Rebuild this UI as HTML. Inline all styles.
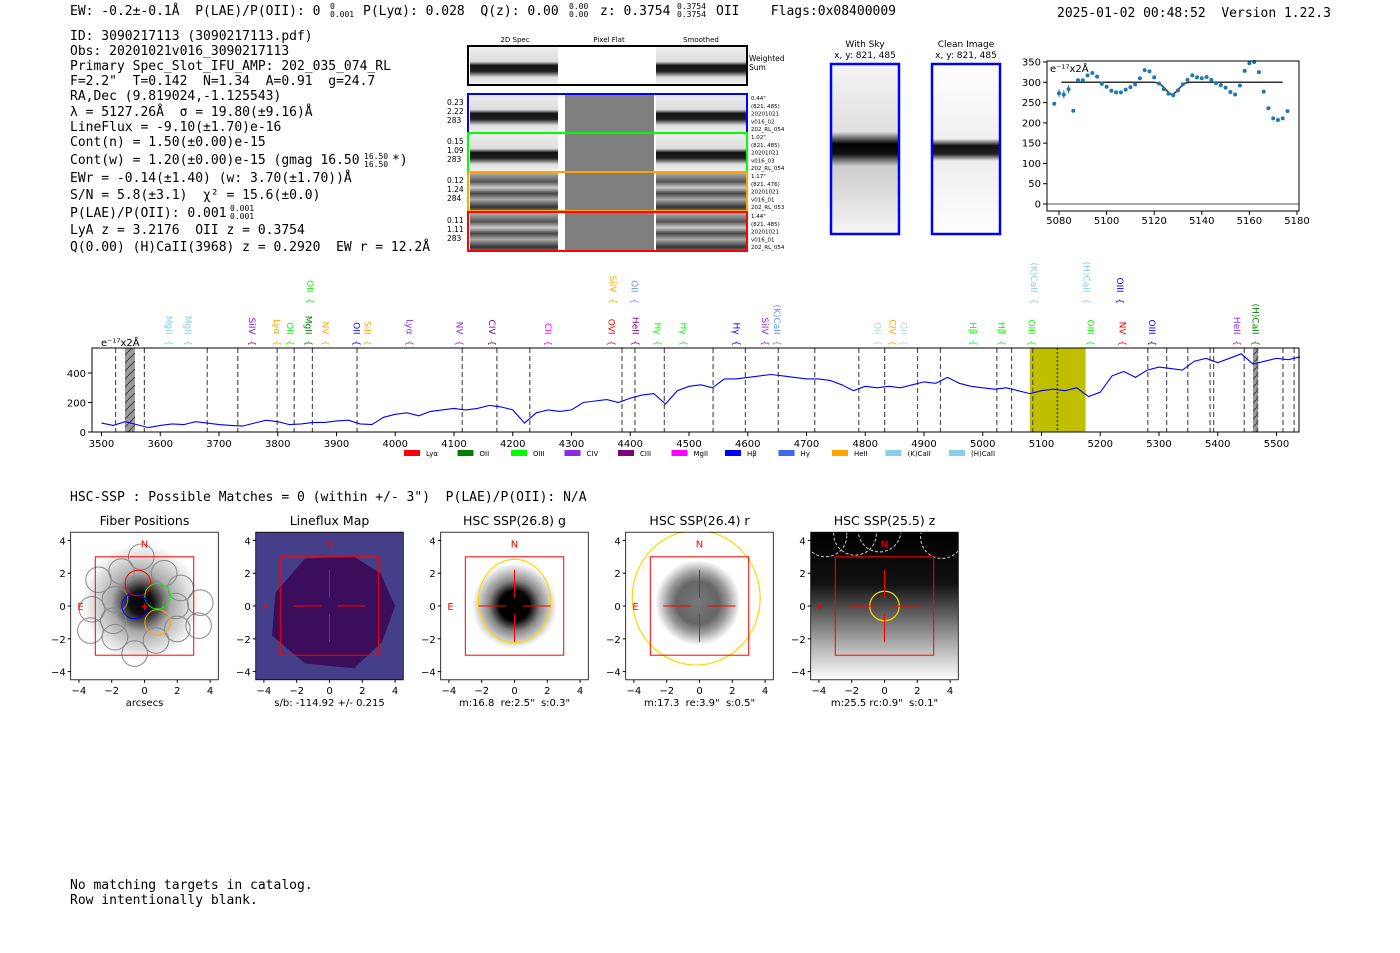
<!DOCTYPE html>
<html><head><meta charset="utf-8">
<style>
html,body{margin:0;padding:0;background:#fff;}
svg{display:block;}
svg text{white-space:pre;}
.mono{font-family:"DejaVu Sans Mono","Liberation Mono",monospace;font-size:13px;fill:#000;}
.sans{font-family:"DejaVu Sans","Liberation Sans",sans-serif;}
.tick{font-family:"DejaVu Sans","Liberation Sans",sans-serif;font-size:10px;fill:#000;}
</style></head>
<body>
<svg id="page" width="1400" height="953" viewBox="0 0 1400 953" xmlns="http://www.w3.org/2000/svg" xml:space="preserve">
<defs>
<linearGradient id="zgrad" x1="0" y1="0" x2="0" y2="1"><stop offset="0" stop-color="#000"/><stop offset="0.35" stop-color="#111"/><stop offset="0.75" stop-color="#aaa"/><stop offset="1" stop-color="#fff"/></linearGradient>
<radialGradient id="gblob"><stop offset="0" stop-color="#000"/><stop offset="0.35" stop-color="#000"/><stop offset="0.6" stop-color="#888"/><stop offset="1" stop-color="#fff"/></radialGradient>
<radialGradient id="fblob"><stop offset="0" stop-color="#000"/><stop offset="0.2" stop-color="#111"/><stop offset="0.5" stop-color="#aaa"/><stop offset="1" stop-color="#fff"/></radialGradient>
<radialGradient id="rblob"><stop offset="0" stop-color="#777"/><stop offset="0.5" stop-color="#666"/><stop offset="0.7" stop-color="#999"/><stop offset="1" stop-color="#fff"/></radialGradient>
<linearGradient id="specband" x1="0" y1="0" x2="0" y2="1"><stop offset="0" stop-color="#eee"/><stop offset="0.4" stop-color="#ddd"/><stop offset="0.5" stop-color="#111"/><stop offset="0.65" stop-color="#222"/><stop offset="0.8" stop-color="#ddd"/><stop offset="1" stop-color="#f4f4f4"/></linearGradient>
<linearGradient id="specband2" x1="0" y1="0" x2="0" y2="1"><stop offset="0" stop-color="#bbb"/><stop offset="0.25" stop-color="#555"/><stop offset="0.4" stop-color="#ccc"/><stop offset="0.55" stop-color="#444"/><stop offset="0.7" stop-color="#aaa"/><stop offset="0.9" stop-color="#333"/><stop offset="1" stop-color="#777"/></linearGradient>
<linearGradient id="skyband" x1="0" y1="0" x2="0" y2="1"><stop offset="0" stop-color="#f4f4f4"/><stop offset="0.4" stop-color="#e0e0e0"/><stop offset="0.47" stop-color="#000"/><stop offset="0.53" stop-color="#111"/><stop offset="0.6" stop-color="#ccc"/><stop offset="1" stop-color="#f6f6f6"/></linearGradient>
<linearGradient id="cleanband" x1="0" y1="0" x2="0" y2="1"><stop offset="0" stop-color="#fff"/><stop offset="0.44" stop-color="#f0f0f0"/><stop offset="0.48" stop-color="#111"/><stop offset="0.53" stop-color="#222"/><stop offset="0.57" stop-color="#eee"/><stop offset="1" stop-color="#fff"/></linearGradient>
<pattern id="hatch" width="8" height="8" patternUnits="userSpaceOnUse"><rect width="8" height="8" fill="#999"/><path d="M0,8 L8,0" stroke="#333" stroke-width="0.8"/></pattern>
</defs>

<g class="mono">
<text x="70" y="15">EW: -0.2±-0.1Å  P(LAE)/P(OII): 0</text>
<text x="330" y="9" font-size="8">0</text><text x="330" y="17" font-size="8">0.001</text>
<text x="363" y="15">P(Lyα): 0.028  Q(z): 0.00</text>
<text x="569" y="9" font-size="8">0.00</text><text x="569" y="17" font-size="8">0.00</text>
<text x="600" y="15">z: 0.3754</text>
<text x="677" y="9" font-size="8">0.3754</text><text x="677" y="17" font-size="8">0.3754</text>
<text x="716" y="15">OII    Flags:0x08400009</text>
<text x="1057" y="17">2025-01-02 00:48:52  Version 1.22.3</text>
</g>
<g class="mono">
<text x="70" y="40">ID: 3090217113 (3090217113.pdf)</text>
<text x="70" y="55">Obs: 20201021v016_3090217113</text>
<text x="70" y="70">Primary Spec_Slot_IFU_AMP: 202_035_074_RL</text>
<text x="70" y="85">F=2.2"  T=0.142  N=1.34  A=0.91  g=24.7</text>
<text x="70" y="100">RA,Dec (9.819024,-1.125543)</text>
<text x="70" y="116">λ = 5127.26Å  σ = 19.80(±9.16)Å</text>
<text x="70" y="131">LineFlux = -9.10(±1.70)e-16</text>
<text x="70" y="146">Cont(n) = 1.50(±0.00)e-15</text>
<text x="70" y="164">Cont(w) = 1.20(±0.00)e-15 (gmag 16.50</text>
<text x="364" y="159" font-size="8">16.50</text><text x="364" y="167" font-size="8">16.50</text>
<text x="392" y="164">*)</text>
<text x="70" y="182">EWr = -0.14(±1.40) (w: 3.70(±1.70))Å</text>
<text x="70" y="199">S/N = 5.8(±3.1)  χ² = 15.6(±0.0)</text>
<text x="70" y="217">P(LAE)/P(OII): 0.001</text>
<text x="230" y="211" font-size="8">0.001</text><text x="230" y="219" font-size="8">0.001</text>
<text x="70" y="234">LyA z = 3.2176  OII z = 0.3754</text>
<text x="70" y="251">Q(0.00) (H)CaII(3968) z = 0.2920  EW r = 12.2Å</text>
</g>

<g font-family="DejaVu Sans, Liberation Sans, sans-serif">
<text x="515" y="42" font-size="7" text-anchor="middle">2D Spec</text>
<text x="609" y="42" font-size="7" text-anchor="middle">Pixel Flat</text>
<text x="701" y="42" font-size="7" text-anchor="middle">Smoothed</text>
<g id="cutouts"></g>
</g>
<g font-family="DejaVu Sans, Liberation Sans, sans-serif">
<text x="865" y="47" font-size="9" text-anchor="middle">With Sky</text>
<text x="865" y="58" font-size="9" text-anchor="middle">x, y: 821, 485</text>
<rect x="831" y="64" width="68" height="170" fill="url(#skyband)" stroke="#00f" stroke-width="2.5"/>
</g>
<g font-family="DejaVu Sans, Liberation Sans, sans-serif">
<text x="966" y="47" font-size="9" text-anchor="middle">Clean Image</text>
<text x="966" y="58" font-size="9" text-anchor="middle">x, y: 821, 485</text>
<rect x="932" y="64" width="68" height="170" fill="url(#cleanband)" stroke="#00f" stroke-width="2.5"/>
</g>

<g id="fitplot"></g>
<g id="spec"></g>

<text x="70" y="501" class="mono">HSC-SSP : Possible Matches = 0 (within +/- 3")  P(LAE)/P(OII): N/A</text>
<g id="imgs"></g>
<text x="70" y="889" class="mono">No matching targets in catalog.</text>
<text x="70" y="904" class="mono">Row intentionally blank.</text>
</svg>
<script>
const specWave = [3500,3520,3540,3560,3580,3600,3620,3640,3660,3680,3700,3720,3740,3760,3780,3800,3820,3840,3860,3880,3900,3920,3940,3960,3980,4000,4020,4040,4060,4080,4100,4120,4140,4160,4180,4200,4220,4240,4260,4280,4300,4320,4340,4360,4380,4400,4420,4440,4460,4480,4500,4520,4540,4560,4580,4600,4620,4640,4660,4680,4700,4720,4740,4760,4780,4800,4820,4840,4860,4880,4900,4920,4940,4960,4980,5000,5020,5040,5060,5080,5100,5120,5140,5160,5180,5200,5220,5240,5260,5280,5300,5320,5340,5360,5380,5400,5420,5440,5460,5480,5500,5520,5540];
const specFlux = [60,45,70,50,30,45,55,50,70,60,50,45,40,60,80,70,50,55,65,65,75,80,55,50,100,120,130,110,140,150,160,150,160,180,170,150,60,130,150,140,150,200,210,220,200,230,250,260,190,280,310,320,300,360,360,370,380,390,380,370,360,360,350,320,280,310,300,310,300,320,340,330,370,330,310,300,290,300,280,260,280,290,280,300,240,270,380,410,370,420,440,430,420,480,500,470,500,530,460,480,500,490,510];
const specTicks = [3500,3600,3700,3800,3900,4000,4100,4200,4300,4400,4500,4600,4700,4800,4900,5000,5100,5200,5300,5400,5500];
const specYTicks = [0,200,400];
const lineMarks = [3524,3573,3680,3732,3799,3828,3859,3935,4114,4173,4229,4386,4408,4458,4541,4596,4652,4714,4789,4833,4889,4928,5024,5049,5085,5281,5313,5349,5387,5393,5445,5467,5511,5530];
const lineLabelsLow = [["MgII",3615,"#87ceeb"],["MgII",3647,"#87ceeb"],["SiIV",3756,"#9400d3"],["Lyα",3799,"#ffa500"],["OII",3821,"#00ff00"],["MgII",3852,"#008000"],["NV",3881,"#ffa500"],["OII",3934,"#0000ff"],["SiII",3953,"#ffa500"],["Lyα",4024,"#8a2be2"],["NV",4109,"#8a2be2"],["CIV",4165,"#800080"],["CII",4260,"#ff00ff"],["OVI",4368,"#ff0000"],["HeII",4409,"#800080"],["Hγ",4446,"#00ff00"],["Hγ",4491,"#00ff00"],["Hγ",4581,"#0000ff"],["SiIV",4629,"#8a2be2"],["(K)CaII",4650,"#6495ed"],["OII",4821,"#add8e6"],["CIV",4846,"#ffa500"],["OII",4865,"#add8e6"],["Hβ",4983,"#00ff00"],["Hβ",5032,"#00ff00"],["OIII",5083,"#00ff00"],["OIII",5183,"#00ff00"],["NV",5238,"#ff0000"],["OIII",5288,"#0000ff"],["HeII",5433,"#8a2be2"],["(H)CaII",5464,"#008000"]];
const lineLabelsHigh = [["OII",3855,"#00ff00"],["SiIV",4371,"#ffa500"],["OII",4407,"#6495ed"],["(K)CaII",5087,"#87ceeb"],["(H)CaII",5177,"#87ceeb"],["OIII",5234,"#0000ff"]];
const legendNames = ["Lyα","OII","OIII","CIV","CIII","MgII","Hβ","Hγ","HeII","(K)CaII","(H)CaII"];
const legendColors = ["#ff0000","#008000","#00ff00","#8a2be2","#800080","#ff00ff","#0000ff","#4169e1","#ffa500","#87ceeb","#87ceeb"];

const fitWave = [5078,5080,5082,5084,5086,5088,5090,5092,5094,5096,5098,5100,5102,5104,5106,5108,5110,5112,5114,5116,5118,5120,5122,5124,5126,5128,5130,5132,5134,5136,5138,5140,5142,5144,5146,5148,5150,5152,5154,5156,5158,5160,5162,5164,5166,5168,5170,5172,5174,5176];
const fitFlux = [247,273,270,283,230,305,305,317,323,314,296,289,279,275,275,282,288,295,310,330,327,312,297,283,272,268,280,295,306,317,312,310,313,306,298,293,287,276,270,292,328,347,350,325,277,236,211,207,211,229];
const fitErr = [0,10,10,10,0,0,0,0,0,0,0,0,0,0,0,0,0,0,0,0,0,0,0,0,0,0,0,0,0,0,0,0,0,0,0,0,0,0,0,0,0,0,0,0,0,0,0,0,0,0];
const modelWave = [5081,5120,5122,5124,5126,5127.5,5129,5131,5133,5135,5174];
const modelFlux = [300,300,298,288,275,269,275,288,298,300,300];
const fitXTicks = [5080,5100,5120,5140,5160,5180];
const fitYTicks = [0,50,100,150,200,250,300,350];

const NS="http://www.w3.org/2000/svg";
function mk(tag,attrs,parent,txt){const e=document.createElementNS(NS,tag);for(const k in attrs)e.setAttribute(k,attrs[k]);if(txt!==undefined)e.textContent=txt;parent.appendChild(e);return e;}

(function(){
 const g=document.getElementById('spec');
 const L=92,R=1299,T=348,B=432;
 const sx=w=>101.5+(w-3500)*0.5875;
 const sy=v=>B-v*0.1475;
 mk('rect',{x:sx(3540),y:T,width:sx(3557)-sx(3540),height:B-T,fill:'url(#hatch)'},g);
 mk('rect',{x:sx(5460),y:T,width:sx(5469)-sx(5460),height:B-T,fill:'url(#hatch)'},g);
 mk('rect',{x:sx(5080),y:T,width:sx(5175)-sx(5080),height:B-T,fill:'#bfbf00'},g);
 mk('line',{x1:sx(5127),x2:sx(5127),y1:T,y2:B,stroke:'#000','stroke-width':1,'stroke-dasharray':'2,2'},g);
 lineMarks.forEach(w=>{const l=mk('line',{x1:sx(w),x2:sx(w),y1:T,y2:B,stroke:'#555','stroke-width':1.2,'stroke-dasharray':'5,3'},g);
  
  });
 let d='';specWave.forEach((w,i)=>{d+=(i?'L':'M')+sx(w).toFixed(1)+','+sy(specFlux[i]).toFixed(1);});
 const p=mk('path',{d:d,fill:'none',stroke:'#0000ff','stroke-width':1.1},g);
 
 
 mk('rect',{x:L,y:T,width:R-L,height:B-T,fill:'none',stroke:'#000','stroke-width':1},g);
 specTicks.forEach(t=>{mk('line',{x1:sx(t),x2:sx(t),y1:B,y2:B+4,stroke:'#000'},g);
  const tx=mk('text',{x:sx(t),y:B+15,'text-anchor':'middle',class:'tick'},g,String(t));
  
  });
 specYTicks.forEach(t=>{mk('line',{x1:L-4,x2:L,y1:sy(t),y2:sy(t),stroke:'#000'},g);
  const tx=mk('text',{x:L-6,y:sy(t)+4,'text-anchor':'end',class:'tick'},g,String(t));
  
  });
 const yl=mk('text',{x:101,y:346,class:'tick'},g,'e⁻¹⁷x2Å');
 
 
 function lab(arr,yEnd){arr.forEach(a=>{const x=sx(a[1]);
  const t=mk('text',{x:x-3,y:yEnd,transform:'rotate(90 '+(x-3)+' '+yEnd+')','text-anchor':'end',class:'sans','font-size':'9',fill:a[2]},g,a[0]+'  {');
  
  });}
 lab(lineLabelsLow,346);lab(lineLabelsHigh,304);
 legendNames.forEach((n,i)=>{const x=404+i*53.5+(i>=9?(i-9)*10:0);
  const r=mk('rect',{x:x,y:450,width:16,height:6,fill:legendColors[i]},g);
  
  
  const t=mk('text',{x:x+22,y:456,class:'sans','font-size':'7'},g,n);
  
  });
})();

(function(){
 const g=document.getElementById('fitplot');
 const L=1047,R=1299,T=61,B=211;
 const sx=w=>1059+(w-5080)*2.38;
 const sy=v=>204-v*0.4057;
 mk('line',{x1:L,x2:R,y1:sy(0),y2:sy(0),stroke:'#555','stroke-width':1},g);
 let d='';modelWave.forEach((w,i)=>{d+=(i?'L':'M')+sx(w).toFixed(1)+','+sy(modelFlux[i]).toFixed(1);});
 const m=mk('path',{d:d,fill:'none',stroke:'#333','stroke-width':1.5},g);
 
 
 fitWave.forEach((w,i)=>{
  if(fitErr[i]>0){mk('line',{x1:sx(w),x2:sx(w),y1:sy(fitFlux[i]-fitErr[i]),y2:sy(fitFlux[i]+fitErr[i]),stroke:'#1f77b4','stroke-width':1},g);}
  const c=mk('circle',{cx:sx(w),cy:sy(fitFlux[i]),r:2,fill:'#1f77b4'},g);
  
  });
 mk('rect',{x:L,y:T,width:R-L,height:B-T,fill:'none',stroke:'#000','stroke-width':1},g);
 fitXTicks.forEach(t=>{mk('line',{x1:sx(t),x2:sx(t),y1:B,y2:B+4,stroke:'#000'},g);
  const tx=mk('text',{x:sx(t),y:B+13,'text-anchor':'middle',class:'tick','font-size':'9'},g,String(t));
  
  });
 fitYTicks.forEach(t=>{mk('line',{x1:L-4,x2:L,y1:sy(t),y2:sy(t),stroke:'#000'},g);
  const tx=mk('text',{x:L-6,y:sy(t)+3.5,'text-anchor':'end',class:'tick','font-size':'9'},g,String(t));
  
  });
 const u=mk('text',{x:1050,y:72,class:'tick','font-size':'9'},g,'e⁻¹⁷x2Å');
 
 
})();

(function(){
 const g=document.getElementById('cutouts');
 const rows=[{y:46,c:'#000',l:null,flat:false},
  {y:94,c:'#0000ff',l:['0.23','2.22','283'],r:['0.44"','(821, 485)','20201021','v016_02','202_RL_054'],flat:true,fill:'url(#specband)'},
  {y:133,c:'#00ff00',l:['0.15','1.09','283'],r:['1.02"','(821, 485)','20201021','v016_03','202_RL_054'],flat:true,fill:'url(#specband)'},
  {y:172,c:'#ffa500',l:['0.12','1.24','284'],r:['1.17"','(821, 476)','20201021','v016_01','202_RL_053'],flat:true,fill:'url(#specband2)'},
  {y:212,c:'#ff0000',l:['0.11','1.11','283'],r:['1.44"','(821, 485)','20201021','v016_01','202_RL_054'],flat:true,fill:'url(#specband2)'}];
 rows.forEach((r,i)=>{
  const h=39;
  const gg=mk('g',{},g);
  
  
  mk('rect',{x:470,y:r.y,width:88,height:h,fill:i==0?'url(#specband)':r.fill},gg);
  mk('rect',{x:558,y:r.y,width:98,height:h,fill:'#fff'},gg);
  if(r.flat)mk('rect',{x:565,y:r.y,width:89,height:h,fill:'#7f7f7f'},gg);
  mk('rect',{x:656,y:r.y,width:90,height:h,fill:i==0?'url(#specband)':r.fill},gg);
  mk('rect',{x:468,y:r.y,width:279,height:h,fill:'none',stroke:r.c,'stroke-width':2},gg);
  if(r.l)r.l.forEach((t,j)=>mk('text',{x:447,y:r.y+11+j*9,'font-size':'7.5'},gg,t));
  if(i==0){mk('text',{x:749,y:r.y+15,'font-size':'7.5'},gg,'Weighted');mk('text',{x:749,y:r.y+24,'font-size':'7.5'},gg,'Sum');}
  else r.r.forEach((t,j)=>mk('text',{x:751,y:r.y+6+j*7.8,'font-size':'5.5'},gg,t));
 });
})();

(function(){
 const g=document.getElementById('imgs');
 const defs=document.querySelector('defs');
 const U=16.4, cy=606;
 const panels=[{cx:144.5,title:'Fiber Positions',xl:'arcsecs'},{cx:329.5,title:'Lineflux Map',xl:'s/b: -114.92 +/- 0.215'},{cx:514.5,title:'HSC SSP(26.8) g',xl:'m:16.8  re:2.5"  s:0.3"'},{cx:699.5,title:'HSC SSP(26.4) r',xl:'m:17.3  re:3.9"  s:0.5"'},{cx:884.5,title:'HSC SSP(25.5) z',xl:'m:25.5 rc:0.9"  s:0.1"'}];
 panels.forEach((p,i)=>{
  const L=p.cx-4.5*U,T=cy-4.5*U,S=9*U;
  const cp=mk('clipPath',{id:'clip'+i},defs);
  mk('rect',{x:L,y:T,width:S,height:S},cp);
  const gg=mk('g',{},g);
  
  
  const X=u=>p.cx+u*U,Y=u=>cy-u*U;
  const ig=mk('g',{'clip-path':i==0?'none':'url(#clip'+i+')'},gg);
  if(i==0){mk('rect',{x:L,y:T,width:S,height:S,fill:'#fff'},ig);mk('circle',{cx:X(-0.2),cy:Y(0.2),r:3.6*U,fill:'url(#fblob)'},ig);}
  if(i==1){mk('rect',{x:L,y:T,width:S,height:S,fill:'#443f88'},ig);mk('polygon',{points:[X(-3.3),Y(0.8),X(-1.5),Y(2.9),X(1.5),Y(3.0),X(3.1),Y(2.0),X(4),Y(0),X(3.2),Y(-2.2),X(1.5),Y(-3.8),X(-1.5),Y(-3.5),X(-3.5),Y(-1.8)].join(' '),fill:'#3b0d5a'},ig);}
  if(i==2){mk('rect',{x:L,y:T,width:S,height:S,fill:'#fff'},ig);mk('circle',{cx:X(0),cy:Y(0),r:2.6*U,fill:'url(#gblob)'},ig);mk('ellipse',{cx:X(0),cy:Y(0.3),rx:2.2*U,ry:2.55*U,fill:'none',stroke:'#ffd700','stroke-width':1.2},ig);}
  if(i==3){mk('rect',{x:L,y:T,width:S,height:S,fill:'#fff'},ig);mk('ellipse',{cx:X(-0.1),cy:Y(0.2),rx:2.6*U,ry:2.6*U,fill:'url(#rblob)'},ig);mk('ellipse',{cx:X(-0.2),cy:Y(0.5),rx:3.9*U,ry:4.1*U,fill:'none',stroke:'#ffd700','stroke-width':1.2},ig);}
  if(i==4){mk('rect',{x:L,y:T,width:S,height:S,fill:'url(#zgrad)'},ig);mk('circle',{cx:X(0),cy:Y(0),r:0.9*U,fill:'none',stroke:'#ffd700','stroke-width':1.2},ig);
   [[-3.6,4.3],[-1.8,4.4],[-0.3,4.6],[3.5,4.2]].forEach(c=>mk('circle',{cx:X(c[0]),cy:Y(c[1]),r:1.3*U,fill:'none',stroke:'#ccc','stroke-dasharray':'3,2'},ig));}
  if(i==0){
   const cir=[[-0.2,3.0,'#888'],[-1.4,2.1,'#888'],[-2.8,1.6,'#888'],[-3.2,-0.2,'#888'],[-3.3,-1.5,'#888'],[-1.8,-1.9,'#888'],[-0.6,-2.9,'#888'],[0.7,-2.1,'#888'],[2.0,-1.4,'#888'],[3.4,0.2,'#888'],[3.3,-1.2,'#888'],[2.2,1.1,'#888'],[1.2,2.0,'#888'],[-1.8,0.4,'#888'],[-1.9,-0.9,'#888'],[1.9,0.0,'#888'],[-0.4,1.4,'#ff0000'],[0.8,0.6,'#00ff00'],[-0.6,0,'#0000ff'],[0.8,-1.0,'#ffa500']];
   cir.forEach(c=>mk('circle',{cx:X(c[0]),cy:Y(c[1]),r:0.78*U,fill:'none',stroke:c[2],'stroke-width':1},ig));
   mk('text',{x:X(0),y:Y(0)+4,'text-anchor':'middle',fill:'#f00','font-size':'11',class:'sans'},ig,'+');
  } else {
   [[-2.2,-0.5],[0.5,2.2]].forEach(s=>mk('line',{x1:X(s[0]),x2:X(s[1]),y1:Y(0),y2:Y(0),stroke:'#f00','stroke-width':1},ig));
   [[-2.2,-0.5],[0.5,2.2]].forEach(s=>mk('line',{x1:X(0),x2:X(0),y1:Y(s[0]),y2:Y(s[1]),stroke:'#f00','stroke-width':1},ig));
  }
  mk('rect',{x:X(-3),y:Y(3),width:6*U,height:6*U,fill:'none',stroke:'#f00','stroke-width':1},ig);
  mk('text',{x:X(0),y:Y(3.8)+4,'text-anchor':'middle',fill:'#f00','font-size':'10',class:'sans'},ig,'N');
  mk('text',{x:X(-3.9),y:Y(0)+4,'text-anchor':'middle',fill:'#f00','font-size':'10',class:'sans'},ig,'E');
  mk('rect',{x:L,y:T,width:S,height:S,fill:'none',stroke:'#000','stroke-width':0.8},gg);
  const tt=mk('text',{x:p.cx,y:525,'text-anchor':'middle',class:'sans','font-size':'12.5'},gg,p.title);
  
  
  [-4,-2,0,2,4].forEach(t=>{
   mk('line',{x1:X(t),x2:X(t),y1:T+S,y2:T+S+3,stroke:'#000'},gg);
   mk('text',{x:X(t),y:T+S+14,'text-anchor':'middle',class:'tick'},gg,t<0?'\u2212'+(-t):String(t));
   mk('line',{x1:L-3,x2:L,y1:Y(t),y2:Y(t),stroke:'#000'},gg);
   mk('text',{x:L-5,y:Y(t)+4,'text-anchor':'end',class:'tick'},gg,t<0?'\u2212'+(-t):String(t));
  });
  const xl=mk('text',{x:p.cx,y:T+S+26,'text-anchor':'middle',class:'tick'},gg,p.xl);
  
  
 });
})();
</script>
</body></html>
